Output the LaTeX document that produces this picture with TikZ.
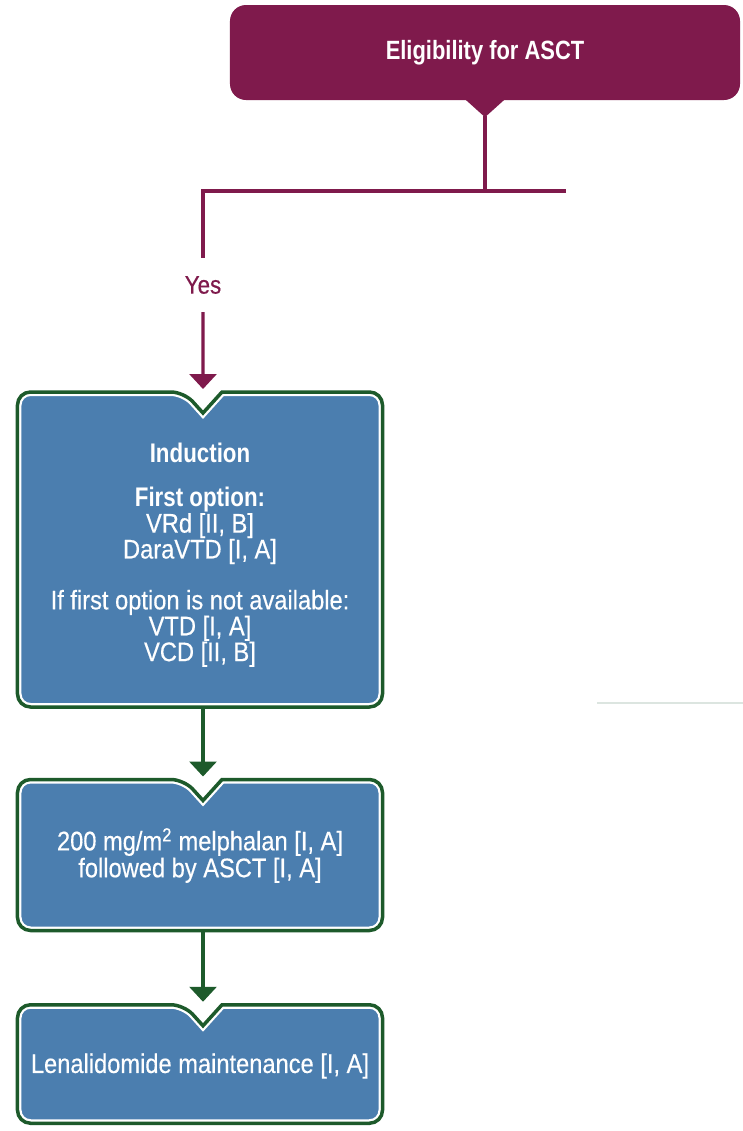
\documentclass[tikz,border=0pt]{standalone}
\usepackage{fontspec}
\setmainfont{Liberation Sans}[FakeStretch=0.88, FakeBold=0.4, BoldFeatures={FakeStretch=0.83, FakeBold=0}]
\usetikzlibrary{arrows.meta, calc}

\definecolor{plum}{HTML}{7F1A4C}
\definecolor{leaf}{HTML}{1D5A2B}
\definecolor{steel}{HTML}{4B7EAF}
\definecolor{haze}{HTML}{DCE5E0}

% outline of a rounded box with a V-shaped notch in its top edge
\newcommand\notchpath[1]{%
  (#1.west) [rounded corners=13bp] -- (#1.north west)
  -- ([xshift=-16bp]#1.north) [sharp corners]
  -- ([xshift=3bp,yshift=-21bp]#1.north)
  -- ([xshift=22bp]#1.north)
  -- ([xshift=40bp]#1.north) [rounded corners=13bp]
  -- (#1.north east) -- (#1.south east) -- (#1.south west) -- cycle}

% blue box: green rim, thin white band, blue body
\newcommand\notchbox[1]{%
  \begin{scope}
    \clip \notchpath{#1};
    \fill[steel] \notchpath{#1};
    \draw[white, line width=8bp] \notchpath{#1};
  \end{scope}
  \draw[leaf, line width=3.5bp] \notchpath{#1};}

\tikzset{
  frame/.style={shape=rectangle, inner sep=0pt, outer sep=0pt, minimum width=365bp},
  txt/.style={text=white, align=center, inner sep=0pt, font=\fontsize{27}{26}\selectfont},
  plumline/.style={draw=plum, line width=3.2bp},
  leafline/.style={draw=leaf, line width=3.2bp},
  headtip/.style={-{Triangle[width=27bp,length=15bp]}},
}

\begin{document}
\begin{tikzpicture}[x=1bp, y=-1bp]
  \fill[white] (0,0) rectangle (743,1131);
  \useasboundingbox (0,0) rectangle (743,1131);

  % decision header
  \node[fill=plum, rounded corners=16bp, minimum width=510bp, minimum height=95bp,
        inner sep=0pt, text=white, font=\bfseries\fontsize{26.5}{26}\selectfont]
        (elig) at (485,52.5) {Eligibility for ASCT};
  \fill[plum] ([xshift=-20bp,yshift=1bp]elig.south) -- ([xshift=20bp,yshift=1bp]elig.south)
        -- ([yshift=-17bp]elig.south) -- cycle;

  \coordinate (split) at (485,191);
  \coordinate (nobranch) at (566,191);

  % treatment boxes
  \node[frame, minimum height=315bp] (ind) at (200,549.5) {};
  \node[frame, minimum height=151bp] (asct) at (200,855) {};
  \node[frame, minimum height=118.5bp] (lena) at (200,1064) {};
  \notchbox{ind}
  \notchbox{asct}
  \notchbox{lena}

  \node[txt] (indtxt) at (200,555) {\textbf{Induction}\\[18bp]
    \textbf{First option:}\\VRd [II, B]\\DaraVTD [I, A]\\[25bp]
    If first option is not available:\\VTD [I, A]\\VCD [II, B]};
  \node[txt, font=\fontsize{27}{27}\selectfont] (asctxt) at (200,855.5)
    {200 mg/m\textsuperscript{2} melphalan [I, A]\\followed by ASCT [I, A]};
  \node[txt] (lenatxt) at (200,1066) {Lenalidomide maintenance [I, A]};

  % connectors
  \node[text=plum, inner xsep=0pt, inner ysep=18bp, font=\fontsize{25.5}{26}\selectfont]
        (yes) at (203,285) {Yes};
  \draw[plumline] ([yshift=-16bp]elig.south) -- (split);
  \draw[plumline] (split) -- (nobranch);
  \draw[plumline] (split) -| (yes.north);
  \draw[plumline, headtip] (yes.south) -- ([xshift=3bp,yshift=3bp]ind.north);
  \draw[leafline, headtip] ([xshift=3bp]ind.south) -- ([xshift=3bp,yshift=3bp]asct.north);
  \draw[leafline, headtip] ([xshift=3bp]asct.south) -- ([xshift=3bp,yshift=3bp]lena.north);

  % faint rule at the right edge
  \draw[haze, line width=1.2bp] (597,703) -- (743,703);
\end{tikzpicture}
\end{document}
